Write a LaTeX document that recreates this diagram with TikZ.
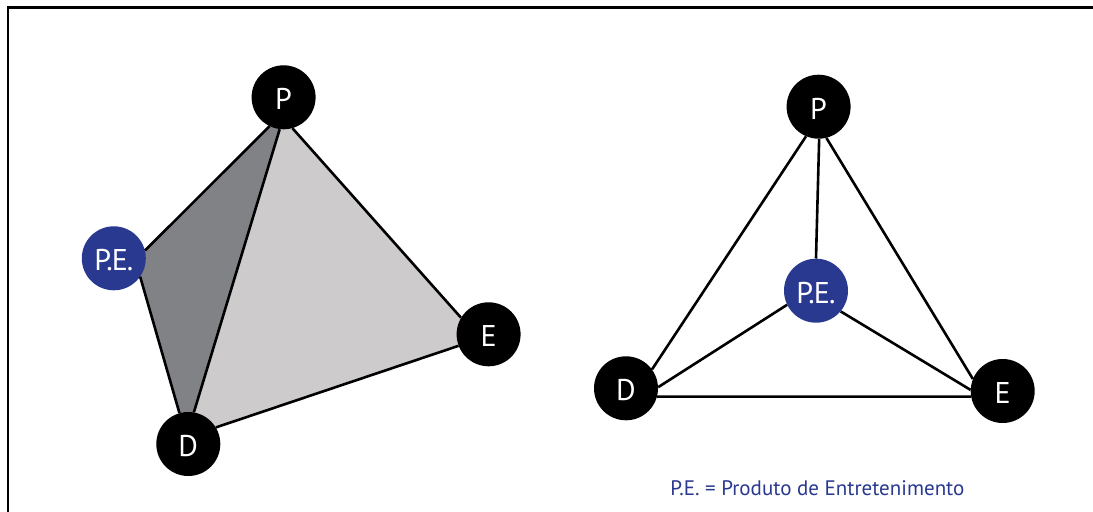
\documentclass[tikz,border=0pt]{standalone}
\usepackage{fontspec}
\setmainfont{PT Sans}
\newfontfamily\labelfont[LetterSpace=-3]{PT Sans}
\usetikzlibrary{backgrounds}
\definecolor{pblue}{HTML}{2A3990}
\definecolor{dgray}{HTML}{808285}
\definecolor{lgray}{HTML}{CDCBCC}
\tikzset{
 labeltext/.style={text=white,font=\labelfont\fontsize{30bp}{32bp}\selectfont,text height=25bp,text depth=0pt,inner sep=0pt},
 blacknode/.style={circle,fill=black,minimum size=64bp,labeltext},
 bluenode/.style={circle,fill=pblue,minimum size=64bp,labeltext},
 edge/.style={draw=black,line width=2.6bp},
 captext/.style={text=pblue,font=\fontsize{21bp}{24bp}\selectfont,inner sep=0pt,anchor=base}
}
\begin{document}
\begin{tikzpicture}[x=1bp,y=-1bp]
\useasboundingbox (0,0) rectangle (1093,512);
\node[blacknode] (P1) at (283.6,97.3) {P};
\node[bluenode] (B1) at (113.8,258.3) {P.E.};
\node[blacknode] (D1) at (188.3,444) {D};
\node[blacknode] (E1) at (488.6,334.3) {E};
\node[blacknode] (P2) at (818.6,106.7) {P};
\node[bluenode] (B2) at (816,290.7) {P.E.};
\node[blacknode] (D2) at (626,388.3) {D};
\node[blacknode] (E2) at (1002.7,391) {E};
\begin{scope}[on background layer]
\fill[white] (0,0) rectangle (1093,512);
\draw[line width=2.5bp] (8,512) -- (8,7.5) -- (1093,7.5);
\fill[lgray] (P1.center) -- (P1.-97.4) -- (D1.80.7) -- (D1.center) -- (D1.31.3) -- (E1.201.8) -- (E1.center) -- (E1.149.5) -- (P1.-74.8) -- cycle;
\fill[dgray] (P1.center) -- (P1.-116) -- (B1.14) -- (B1.center) -- (B1.-35) -- (D1.106) -- (D1.center) -- (D1.80.7) -- (P1.-97.4) -- cycle;
\end{scope}
\draw[edge] (P1.-116) -- (B1.14);
\draw[edge] (B1.-35) -- (D1.106);
\draw[edge] (P1.-97.4) -- (D1.80.7);
\draw[edge] (P1.-74.8) -- (E1.149.5);
\draw[edge] (E1.201.8) -- (D1.31.3);
\draw[edge] (P2.-113.2) -- (D2.36.2);
\draw[edge] (P2.-89) -- (B2.90);
\draw[edge] (P2.-76) -- (E2.158);
\draw[edge] (B2.206) -- (D2.2.8);
\draw[edge] (B2.-40.8) -- (E2.178.7);
\draw[edge] (D2.-15.3) -- (E2.190.5);
\node[captext] (L) at (817.3,495) {P.E. = Produto de Entretenimento};
\end{tikzpicture}
\end{document}
